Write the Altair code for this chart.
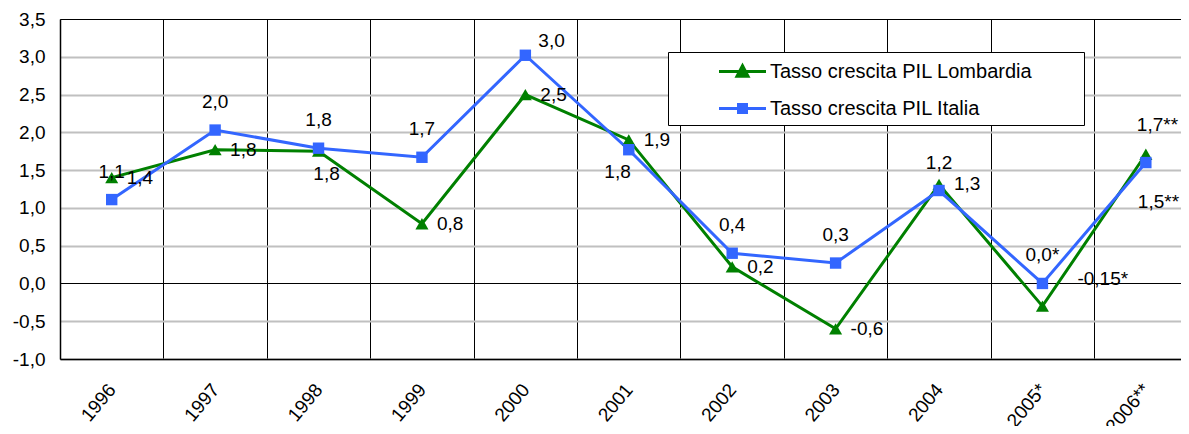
import altair as alt
import pandas as pd

# ---- data ----
years = ["1996", "1997", "1998", "1999", "2000", "2001", "2002", "2003", "2004", "2005*", "2006**"]
series_names = ["Tasso crescita PIL Lombardia", "Tasso crescita PIL Italia"]
lombardia = [1.40, 1.77, 1.75, 0.79, 2.50, 1.90, 0.22, -0.60, 1.31, -0.30, 1.71]
italia = [1.11, 2.03, 1.79, 1.67, 3.02, 1.77, 0.40, 0.27, 1.23, 0.00, 1.60]
lombardia_labels = ["1,4", "1,8", "1,8", "0,8", "2,5", "1,9", "0,2", "-0,6", "1,3", "-0,15*", "1,7**"]
italia_labels = ["1,1", "2,0", "1,8", "1,7", "3,0", "1,8", "0,4", "0,3", "1,2", "0,0*", "1,5**"]
lombardia_label_place = ["right", "right", "below", "right", "right", "right", "right", "right", "right",
                         "right_high", "above_left"]
italia_label_place = ["above", "above", "above", "above", "above_right", "below_left", "above", "above",
                      "above", "above", "below_right"]
y_ticks = [-1.0, -0.5, 0.0, 0.5, 1.0, 1.5, 2.0, 2.5, 3.0, 3.5]

# ---- styles ----
series_colors = ["#008000", "#3366ff"]
series_shapes = ["triangle-up", "square"]
series_sizes = [170, 130]
FONT = "Liberation Sans"
placements = {
    "right": dict(align="left", dx=15, dy=0),
    "above": dict(align="center", dx=0, dy=-28),
    "below": dict(align="center", dx=8, dy=23),
    "above_right": dict(align="left", dx=13, dy=-14),
    "below_left": dict(align="right", dx=2, dy=22),
    "right_high": dict(align="left", dx=35, dy=-27),
    "above_left": dict(align="left", dx=-9, dy=-29),
    "below_right": dict(align="left", dx=-8, dy=39),
}
# legend symbols: a line segment with the series marker on it
legend_paths = ["M-2,0L2,0M0,-0.5L0.47,0.4L-0.47,0.4Z", "M-2,0L2,0M-0.34,-0.34H0.34V0.34H-0.34Z"]

rows = []
for name, vals, labs, places in [
    (series_names[0], lombardia, lombardia_labels, lombardia_label_place),
    (series_names[1], italia, italia_labels, italia_label_place),
]:
    for i, (v, lab, pl) in enumerate(zip(vals, labs, places)):
        rows.append({"idx": i, "anno": years[i], "serie": name, "valore": v,
                     "etichetta": lab, "pos": pl})
df = pd.DataFrame(rows)

n = len(years)
x_vals = sorted([i - 0.5 for i in range(n)] + list(range(n)))
year_array = "[" + ",".join("'" + y + "'" for y in years) + "]"

x_enc = alt.X(
    "idx:Q",
    scale=alt.Scale(domain=[-0.5, 10.34], nice=False, zero=False),
    axis=alt.Axis(
        values=x_vals, title=None, ticks=False,
        grid=True, gridColor="black", gridWidth=1,
        gridOpacity={"condition": {"test": "datum.value % 1 !== 0", "value": 1}, "value": 0},
        domain=True, domainColor="black", domainWidth=1.5,
        labelExpr="datum.value % 1 === 0 ? " + year_array + "[datum.value] : ''",
        labelAngle=-50, labelAlign="right", labelBaseline="middle", labelPadding=27,
        labelFontSize=19, labelFont=FONT, labelColor="black",
        labelOverlap=False, labelFlush=False,
    ),
)
edge_test = "datum.value === 0 || datum.value >= 3.5"
y_enc = alt.Y(
    "valore:Q",
    scale=alt.Scale(domain=[-1.0, 3.5], nice=False, zero=False),
    axis=alt.Axis(
        values=y_ticks, title=None, ticks=False,
        grid=True,
        gridColor={"condition": {"test": edge_test, "value": "black"}, "value": "#c0c0c0"},
        gridWidth={"condition": {"test": edge_test, "value": 1.2}, "value": 2},
        domain=True, domainColor="black", domainWidth=1.5,
        labelExpr="(datum.value < 0 ? '-' : '') + replace(format(abs(datum.value), '.1f'), '.', ',')",
        labelPadding=15, labelFontSize=19, labelFont=FONT, labelColor="black",
        labelOverlap=False, labelFlush=False,
    ),
)

blank_pad = "\u2800" * 3  # invisible, non-trimmed padding that widens the legend box
legend = alt.Legend(
    orient="none", legendX=608, legendY=33, direction="vertical",
    strokeColor="black", fillColor="white", padding=6,
    symbolType="stroke", symbolSize=552, symbolStrokeWidth=3, symbolOffset=55, labelOffset=14,
    rowPadding=12,
    labelFontSize=20, labelFont=FONT, labelColor="black", labelLimit=700,
    labelExpr="datum.label + '" + blank_pad + "'",
)

color_scale = alt.Scale(domain=series_names, range=series_colors)
color_enc = alt.Color("serie:N", title=None, scale=color_scale, legend=legend)

base = alt.Chart(df)

lines = base.mark_line(strokeWidth=3).encode(x=x_enc, y=y_enc, color=color_enc)

point_layers = []
for name, shp, sz in zip(series_names, series_shapes, series_sizes):
    point_layers.append(
        base.transform_filter(alt.datum.serie == name)
        .mark_point(filled=True, opacity=1, shape=shp, size=sz)
        .encode(x=x_enc, y=y_enc, color=color_enc)
    )

# transparent layer whose only job is to give the legend its line+marker symbols
legend_layer = base.mark_point(opacity=0, strokeWidth=3).encode(
    x=x_enc, y=y_enc,
    fill=alt.Fill("serie:N", title=None, scale=alt.Scale(domain=series_names, range=series_colors), legend=legend),
    stroke=alt.Stroke("serie:N", title=None, scale=alt.Scale(domain=series_names, range=series_colors), legend=legend),
    shape=alt.Shape("serie:N", title=None, scale=alt.Scale(domain=series_names, range=legend_paths), legend=legend),
)

text_layers = []
for key, p in placements.items():
    text_layers.append(
        base.transform_filter(alt.datum.pos == key).mark_text(
            align=p["align"], dx=p["dx"], dy=p["dy"], baseline="middle",
            fontSize=19, font=FONT, color="black",
        ).encode(x=x_enc, y=y_enc, text="etichetta:N")
    )

chart = alt.layer(lines, *point_layers, legend_layer, *text_layers).properties(
    width=1121, height=340,
    autosize=alt.AutoSizeParams(type="none"),
    padding={"left": 52, "top": 11, "right": 0, "bottom": 67},
    background="white",
).configure_view(stroke="transparent")

chart.save("out.html", embed_options={"renderer": "svg", "actions": False})
